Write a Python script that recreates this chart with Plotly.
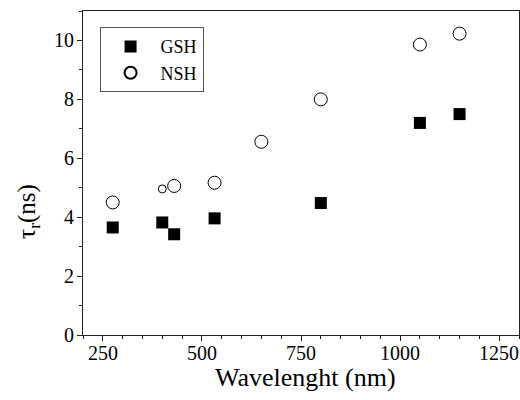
import plotly.graph_objects as go

gsh_x = [275, 400, 430, 532, 800, 1050, 1150]
gsh_y = [3.65, 3.82, 3.42, 3.96, 4.48, 7.2, 7.5]

nsh_x = [275, 430, 532, 650, 800, 1050, 1150]
nsh_y = [4.5, 5.06, 5.17, 6.56, 8.0, 9.86, 10.23]

nsh_small_x = [400]
nsh_small_y = [4.96]

x_ticks = [250, 500, 750, 1000, 1250]
y_ticks = [0, 2, 4, 6, 8, 10]

x_title = "Wavelenght (nm)"
y_title = "τ<sub>r</sub>(ns)"

FONT = "Liberation Serif"
TICK_FONT = "Times New Roman, Liberation Serif, DejaVu Serif, serif"

fig = go.Figure()
fig.add_trace(go.Scatter(
    x=gsh_x, y=gsh_y, mode="markers", name="GSH",
    marker=dict(symbol="square", size=12, color="black", line=dict(width=0)),
))
fig.add_trace(go.Scatter(
    x=nsh_x, y=nsh_y, mode="markers", name="NSH",
    marker=dict(symbol="circle-open", size=13, color="black", line=dict(width=1)),
))
fig.add_trace(go.Scatter(
    x=nsh_small_x, y=nsh_small_y, mode="markers", name="NSH", showlegend=False,
    marker=dict(symbol="circle-open", size=8, color="black", line=dict(width=1)),
))

fig.update_layout(
    width=520, height=400,
    margin=dict(l=83, r=1, t=11, b=65),
    plot_bgcolor="white", paper_bgcolor="white",
    font=dict(family=FONT, size=20, color="black"),
    legend=dict(
        x=0.038, y=0.95, xanchor="left", yanchor="top",
        bordercolor="#555", borderwidth=1, bgcolor="white",
        font=dict(family=FONT, size=18, color="black"),
        itemsizing="constant", itemwidth=50,
    ),
)
fig.update_xaxes(
    range=[200, 1300], tickvals=x_ticks, showticklabels=False,
    showline=True, linecolor="#222", linewidth=1, mirror=True,
    ticks="outside", ticklen=5, tickwidth=1, tickcolor="#222",
    showgrid=False, zeroline=False,
    minor=dict(ticks="outside", ticklen=3, dtick=50, tick0=0, tickcolor="#222", showgrid=False),
)
fig.update_yaxes(
    range=[0, 11], tickvals=y_ticks, showticklabels=False,
    showline=True, linecolor="#222", linewidth=1, mirror=True,
    ticks="outside", ticklen=5, tickwidth=1, tickcolor="#222",
    showgrid=False, zeroline=False,
    minor=dict(ticks="outside", ticklen=3, dtick=1, tick0=0, tickcolor="#222", showgrid=False),
)

tick_font = dict(family=TICK_FONT, size=20, color="black")
for v in x_ticks:
    fig.add_annotation(x=v, xref="x", y=0, yref="paper", text=str(v),
                       showarrow=False, xanchor="center", yanchor="top",
                       yshift=-5, font=tick_font)
for v in y_ticks:
    fig.add_annotation(x=0, xref="paper", y=v, yref="y", text=str(v),
                       showarrow=False, xanchor="right", yanchor="middle",
                       xshift=-7, font=tick_font)

fig.add_annotation(x=0.51, xref="paper", y=0, yref="paper", text=x_title,
                   showarrow=False, xanchor="center", yanchor="middle",
                   yshift=-42, font=dict(family=FONT, size=26, color="black"))
fig.add_annotation(x=0, xref="paper", y=0.38, yref="paper", text=y_title,
                   showarrow=False, xanchor="center", yanchor="middle", textangle=-90,
                   xshift=-54, font=dict(family=FONT, size=25, color="black"))

fig.write_html("out.html")
